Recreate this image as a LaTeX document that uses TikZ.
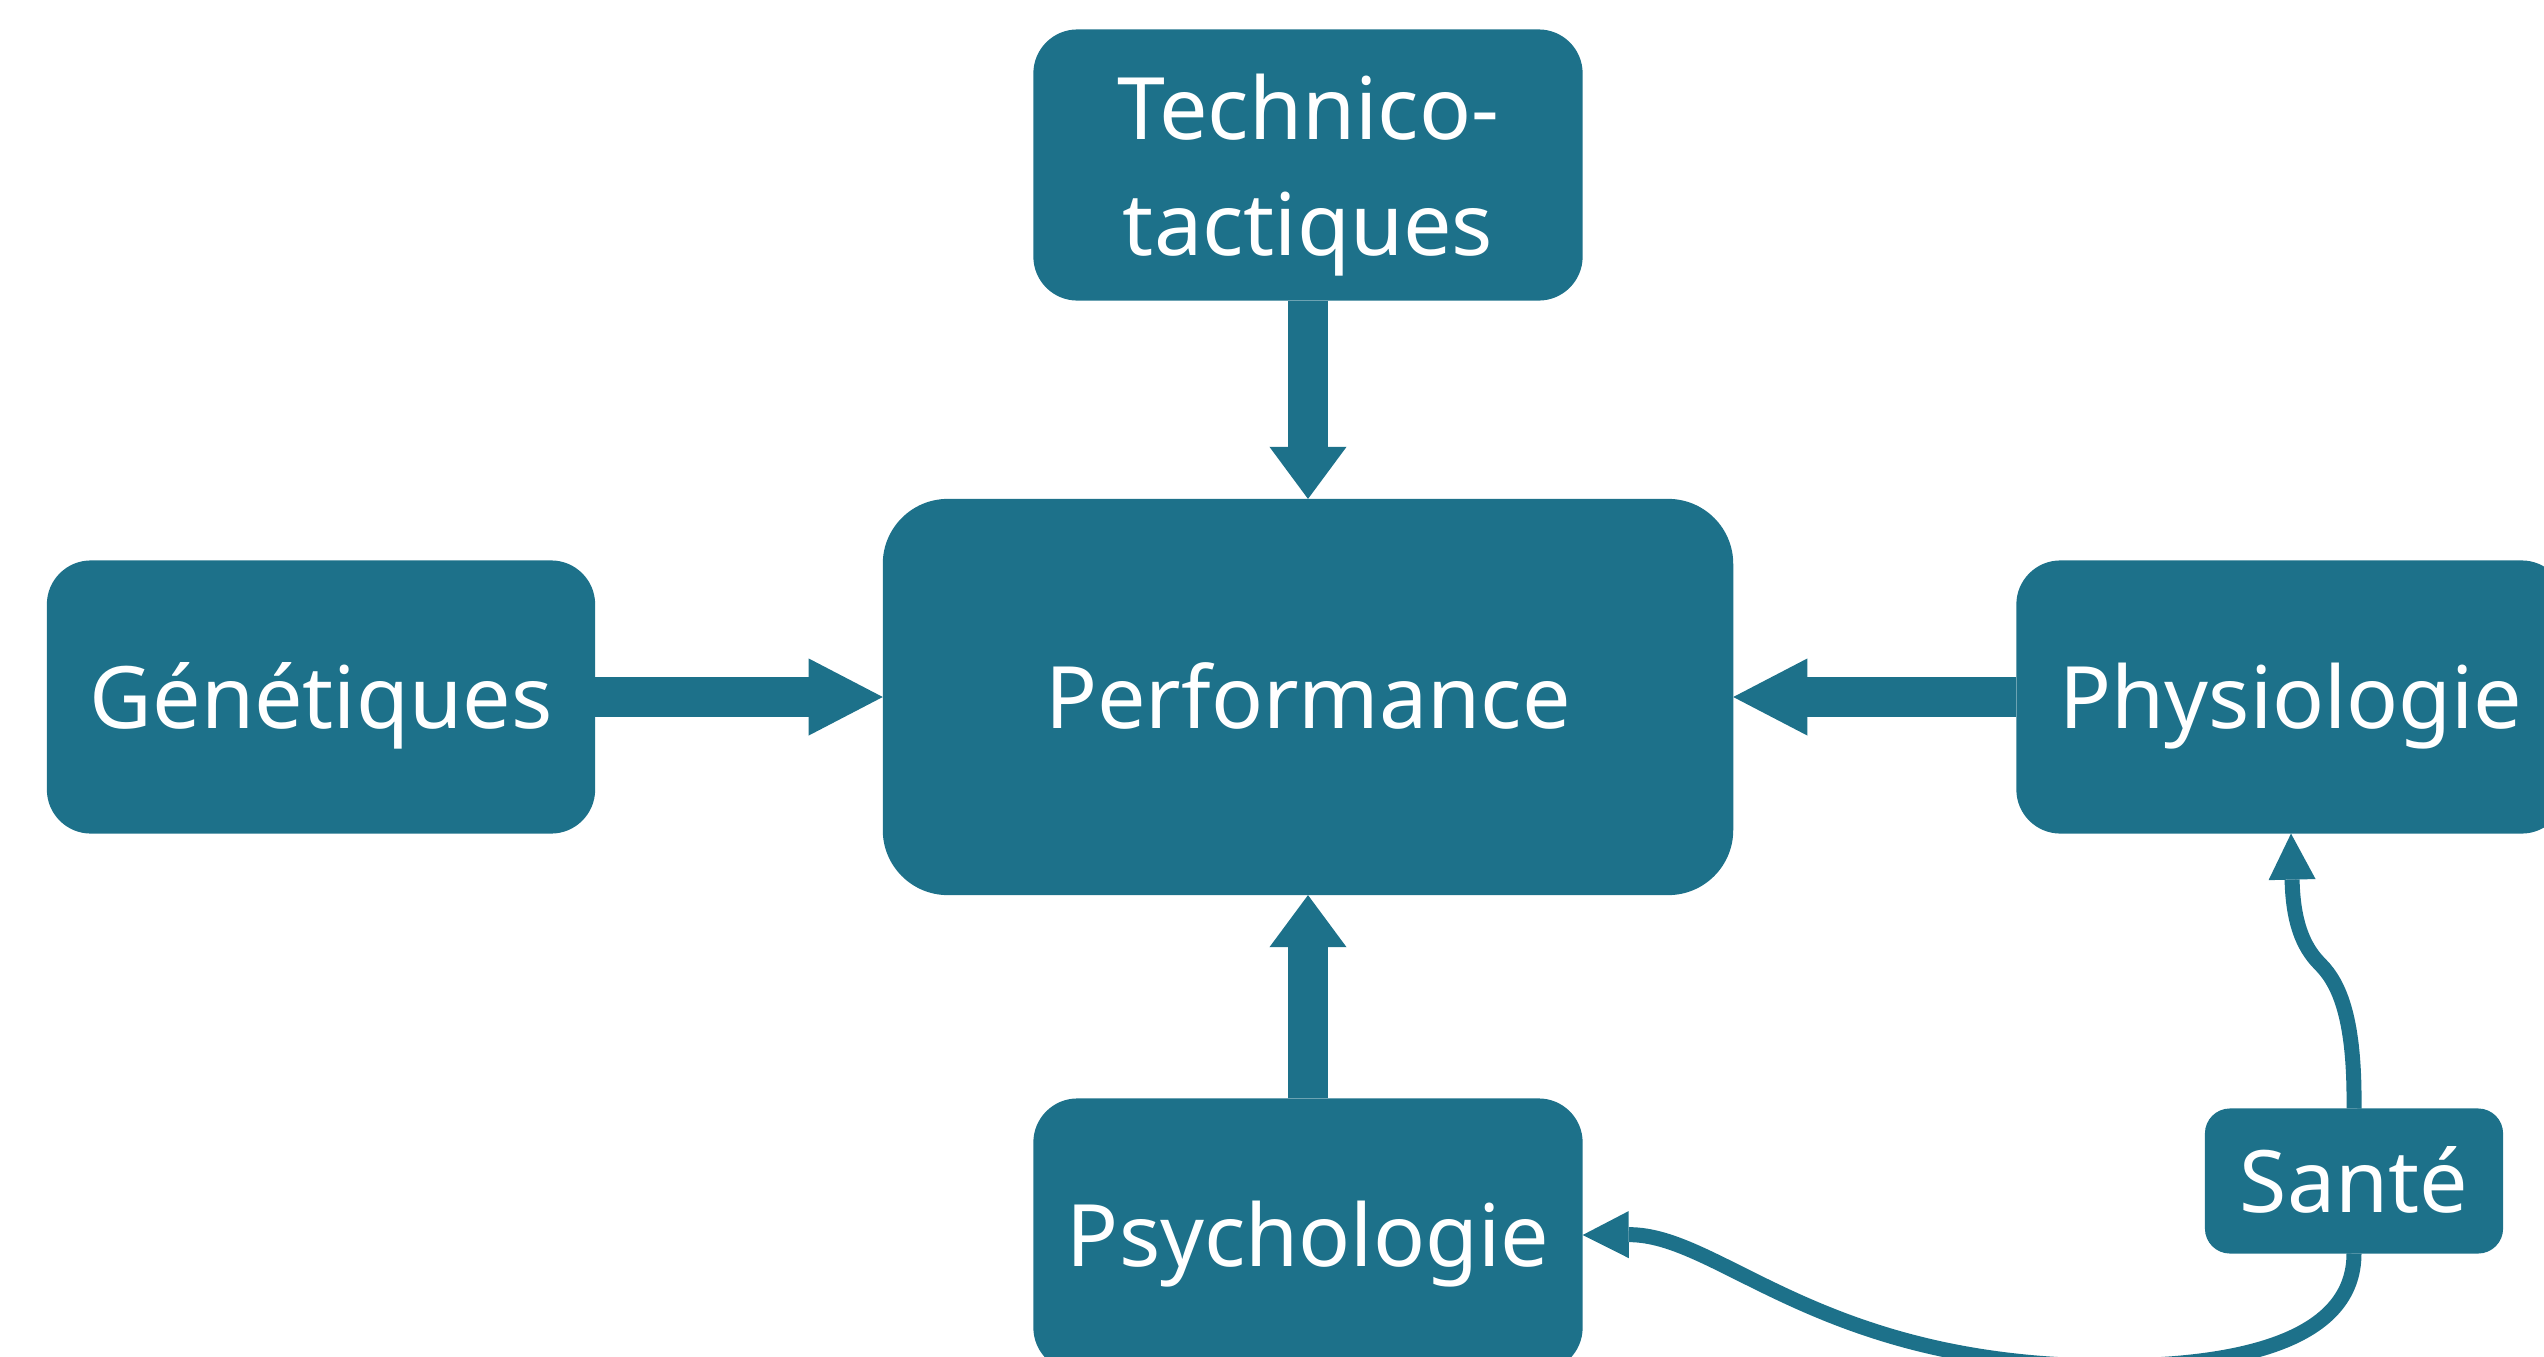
\documentclass[tikz,border=0pt]{standalone}
\usepackage{fontspec}
\setmainfont{Noto Sans}
\usetikzlibrary{arrows.meta}
\definecolor{bleu}{RGB}{29,113,138}
\tikzset{
  bloc/.style = {rectangle, rounded corners=#1, fill=bleu, text=white,
                 inner sep=0pt, outer sep=0pt, align=center,
                 font=\fontsize{24.5}{33}\selectfont},
  bloc/.default = 0.44cm,
  ligne/.style = {text height=0.62cm, text depth=0pt},
  fleche/.style = {draw=bleu, line width=0.39cm,
                   -{Triangle[width=0.77cm, length=#1, line width=0pt]}},
  fleche/.default = 0.52cm,
  lien/.style = {draw=bleu, line width=0.15cm,
                 -{Triangle[width=0.47cm, length=0.46cm, line width=0pt]}}
}
\begin{document}
\begin{tikzpicture}[x=0.01cm, y=-0.01cm]
	\useasboundingbox (0,0) rectangle (2544,1357);
	\clip (0,0) rectangle (2544,1357);

	% Boxes
	\node[bloc=0.65cm, ligne, minimum width=8.50cm, minimum height=3.96cm] (perf) at (1308,697) {Performance};
	\node[bloc, text depth=0pt, minimum width=5.49cm, minimum height=2.71cm] (tech) at (1308,165) {Technico-\\tactiques};
	\node[bloc, ligne, minimum width=5.48cm, minimum height=2.73cm] (gen) at (321,697) {Génétiques};
	\node[bloc, ligne, minimum width=5.49cm, minimum height=2.73cm] (phys) at (2291,697) {Physiologie};
	\node[bloc, ligne, minimum width=5.49cm, minimum height=2.73cm] (psy) at (1308,1235) {Psychologie};
	\node[bloc=0.25cm, ligne, minimum width=2.98cm, minimum height=1.45cm] (sante) at (2354,1181) {Santé};

	% Big arrows into Performance
	\draw[fleche] (tech) -- (perf);
	\draw[fleche] (psy) -- (perf);
	\draw[fleche=0.74cm] (gen) -- (perf);
	\draw[fleche=0.74cm] (phys) -- (perf);

	% Sante links
	\draw[lien] (sante.north) .. controls (2355,1020) and (2340,984) .. (2320,964)
	                          .. controls (2302,946) and (2293,920) .. (phys.south);
	\draw[lien] (sante.south) .. controls (2354,1340) and (2240,1366) .. (2110,1366)
	                          .. controls (1820,1366) and (1720,1234) .. (psy.east);
\end{tikzpicture}
\end{document}
